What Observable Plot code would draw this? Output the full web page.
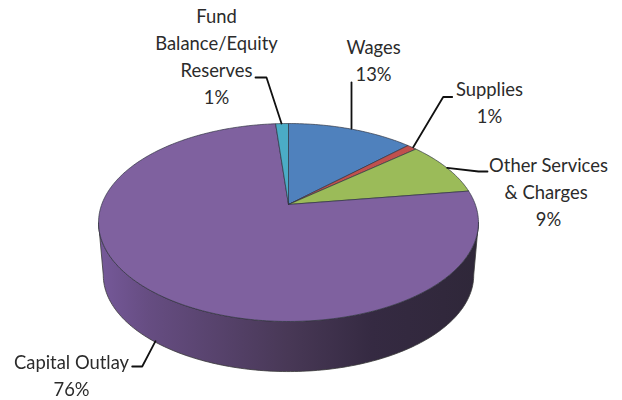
<!DOCTYPE html>
<html>
<head>
<meta charset="utf-8">
<script src="https://cdn.jsdelivr.net/npm/d3@7"></script>
<script src="https://cdn.jsdelivr.net/npm/@observablehq/plot@0.6"></script>
<style>
  html, body { margin: 0; padding: 0; background: #fff; }
  svg { display: block; filter: blur(0.35px); }
</style>
</head>
<body>
<div id="chart"></div>
<script>
// Data, clockwise from 12 o'clock
const categories = ["Wages", "Supplies", "Other Services & Charges", "Capital Outlay", "Fund Balance/Equity Reserves"];
const values = [12.8, 1.0, 8.9, 76.0, 1.3];
const labelLines = ["Wages", "Supplies", "Other Services\n& Charges ", "Capital Outlay", "Fund\nBalance/Equity\nReserves"];
const colors = ["#4f81bd", "#c0504d", "#9bbb59", "#7f619f", "#4bacc6"];

// Layout (pixels) of the perspective disc and the annotations
const W = 622, H = 400;
const CX = 288, CY = 204, RX = 186.8, RY = 95.7, PERSP = 0.1818;
const BASE_SCALE = 0.975, BASE_DROP = 0.554;
const labelAt = [[373, 58.5], [489, 100.5], [548, 189.5], [71, 373.5], [216, 54.5]];
const leaderAt = [
  [[351, 128], [351, 82]],
  [[412.7, 146.7], [442.7, 96.5], [451.7, 96.5]],
  [[446.7, 167.3], [478, 171], [487, 171]],
  [[155, 340.7], [141.7, 366], [131.7, 366]],
  [[281, 123], [266, 77], [255, 77]]
];

// Circle angle (degrees clockwise from top) to projected disc coordinates
function project(deg) {
  const t = deg * Math.PI / 180, u = Math.sin(t), v = Math.cos(t), k = 1 + PERSP * v;
  return {x: u / k, y: v / k};
}
const total = d3.sum(values);
const ends = d3.cumsum(values).map(c => c / total * 360);

const slicePoints = categories.flatMap((name, i) => {
  const a0 = i ? ends[i - 1] : 0, a1 = ends[i];
  const n = Math.max(2, Math.ceil(a1 - a0));
  const rim = d3.range(n + 1).map(j => ({name, ...project(a0 + (a1 - a0) * j / n)}));
  return [{name, x: 0, y: 0}, ...rim, {name, x: 0, y: 0}];
});

// Side wall: front rim of the top face, then the front rim of the base back again
const tangent = Math.acos(-PERSP) * 180 / Math.PI;
const sweep = d3.range(tangent, 360 - tangent, 1).concat(360 - tangent);
const wallPoints = [
  ...sweep.map(project),
  ...sweep.slice().reverse().map(project).map(p => ({x: p.x * BASE_SCALE, y: p.y * BASE_SCALE - BASE_DROP}))
];
wallPoints.push(wallPoints[0]);

const dataX = X => (X - CX) / RX;
const dataY = Y => (CY - Y) / RY;
const leaderPoints = leaderAt.flatMap((pts, i) => pts.map(([X, Y]) => ({name: categories[i], x: dataX(X), y: dataY(Y)})));
const labels = categories.map((name, i) => ({
  text: `${labelLines[i]}\n${Math.round(values[i])}%`,
  x: dataX(labelAt[i][0]),
  y: dataY(labelAt[i][1])
}));

function wallGradient(index, scales, values, dimensions, context) {
  const doc = context.document, NS = "http://www.w3.org/2000/svg";
  const defs = doc.createElementNS(NS, "defs");
  const g = doc.createElementNS(NS, "linearGradient");
  g.setAttribute("id", "wallFill");
  [[0, "#76599a"], [0.13, "#664d82"], [0.5, "#483856"], [0.72, "#352a42"], [1, "#2f2739"]].forEach(([o, c]) => {
    const s = doc.createElementNS(NS, "stop");
    s.setAttribute("offset", o);
    s.setAttribute("stop-color", c);
    g.appendChild(s);
  });
  defs.appendChild(g);
  return defs;
}

const chart = Plot.plot({
  width: W, height: H,
  margin: 0,
  x: {axis: null, domain: [-1, 1], range: [CX - RX, CX + RX]},
  y: {axis: null, domain: [-1, 1], range: [CY + RY, CY - RY]},
  color: {domain: categories, range: colors},
  style: {background: "#fff", overflow: "visible"},
  marks: [
    wallGradient,
    Plot.line(wallPoints, {x: "x", y: "y", fill: "url(#wallFill)", stroke: "#3a3a3a", strokeWidth: 0.8, curve: "linear"}),
    Plot.line(slicePoints, {x: "x", y: "y", z: "name", fill: "name", stroke: "#2e3340", strokeWidth: 0.8, strokeOpacity: 0.85, curve: "linear"}),
    Plot.line(leaderPoints, {x: "x", y: "y", z: "name", stroke: "#111", strokeWidth: 1.8, curve: "linear"}),
    Plot.text(labels, {x: "x", y: "y", text: "text", textAnchor: "middle", lineAnchor: "middle", lineHeight: 1.47, fontSize: 18.4, fontFamily: "Lato", fill: "#2b2b2b"})
  ]
});
document.getElementById("chart").appendChild(chart);
</script>
</body>
</html>
